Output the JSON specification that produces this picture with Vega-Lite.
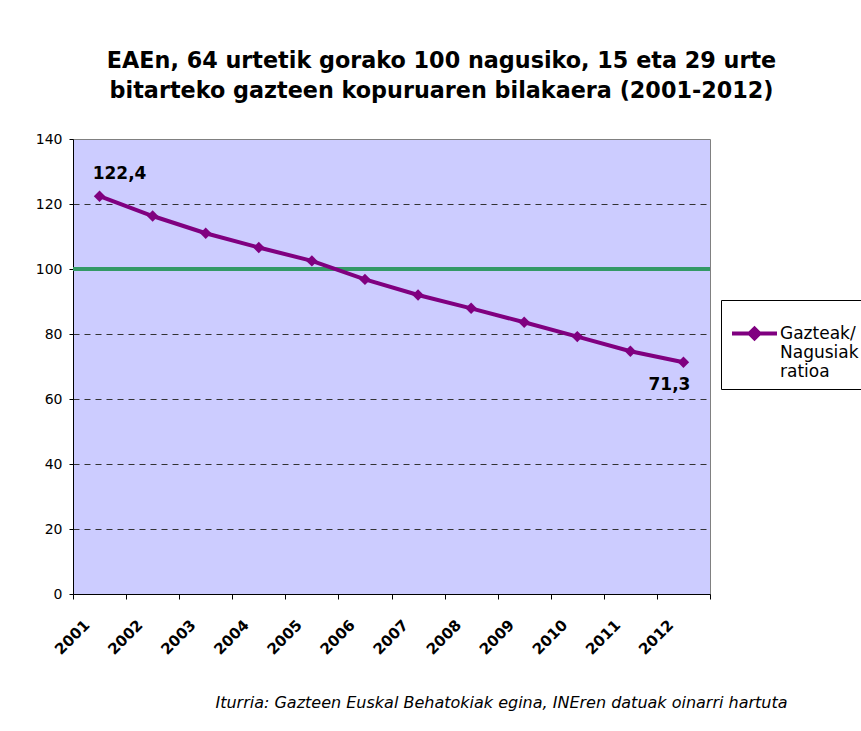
{
  "$schema": "https://vega.github.io/schema/vega-lite/v6.json",
  "width": 637,
  "height": 455,
  "autosize": {"type": "none"},
  "padding": {"left": 73, "top": 139, "right": 151, "bottom": 137},
  "background": "white",
  "config": {
    "locale": {"number": {"decimal": ",", "thousands": ".", "grouping": [3], "currency": ["", " €"]}},
    "view": {"fill": "#ccccff", "stroke": "#808080", "strokeWidth": 1},
    "font": "DejaVu Sans"
  },
  "title": {
    "text": ["EAEn, 64 urtetik gorako 100 nagusiko, 15 eta 29 urte", "bitarteko gazteen kopuruaren bilakaera (2001-2012)"],
    "font": "DejaVu Sans",
    "fontSize": 22.3,
    "fontWeight": "bold",
    "color": "black",
    "anchor": "middle",
    "frame": "group",
    "dx": 50,
    "lineHeight": 30,
    "offset": 30
  },
  "data": {
    "values": [
      {"urtea": "2001", "serie": "Gazteak/ Nagusiak ratioa", "ratioa": 122.4},
      {"urtea": "2002", "serie": "Gazteak/ Nagusiak ratioa", "ratioa": 116.3},
      {"urtea": "2003", "serie": "Gazteak/ Nagusiak ratioa", "ratioa": 111.0},
      {"urtea": "2004", "serie": "Gazteak/ Nagusiak ratioa", "ratioa": 106.6},
      {"urtea": "2005", "serie": "Gazteak/ Nagusiak ratioa", "ratioa": 102.5},
      {"urtea": "2006", "serie": "Gazteak/ Nagusiak ratioa", "ratioa": 96.8},
      {"urtea": "2007", "serie": "Gazteak/ Nagusiak ratioa", "ratioa": 92.0},
      {"urtea": "2008", "serie": "Gazteak/ Nagusiak ratioa", "ratioa": 87.9},
      {"urtea": "2009", "serie": "Gazteak/ Nagusiak ratioa", "ratioa": 83.6},
      {"urtea": "2010", "serie": "Gazteak/ Nagusiak ratioa", "ratioa": 79.2},
      {"urtea": "2011", "serie": "Gazteak/ Nagusiak ratioa", "ratioa": 74.7},
      {"urtea": "2012", "serie": "Gazteak/ Nagusiak ratioa", "ratioa": 71.3}
    ]
  },
  "encoding": {
    "x": {
      "field": "urtea",
      "type": "ordinal",
      "scale": {"type": "band", "paddingInner": 0, "paddingOuter": 0},
      "axis": {
        "title": "Iturria: Gazteen Euskal Behatokiak egina, INEren datuak oinarri hartuta",
        "titleFont": "DejaVu Sans",
        "titleFontStyle": "italic",
        "titleFontWeight": "normal",
        "titleFontSize": 16,
        "titleColor": "black",
        "titleX": 428,
        "titleY": 108,
        "titleAlign": "center",
        "titleBaseline": "middle",
        "tickBand": "extent",
        "domainColor": "black",
        "tickColor": "black",
        "tickSize": 5,
        "labelAngle": -45,
        "labelAlign": "right",
        "labelBaseline": "middle",
        "labelFontWeight": "bold",
        "labelFontSize": 15,
        "labelColor": "black",
        "labelPadding": 23,
        "labelOffset": -13,
        "labelBound": false,
        "labelOverlap": false,
        "grid": false
      }
    },
    "y": {
      "field": "ratioa",
      "type": "quantitative",
      "scale": {"domain": [0, 140], "nice": false},
      "axis": {
        "title": null,
        "values": [0, 20, 40, 60, 80, 100, 120, 140],
        "domainColor": "black",
        "tickColor": "black",
        "tickSize": 4,
        "labelPadding": 7,
        "labelFontSize": 14,
        "labelColor": "black",
        "grid": true,
        "gridColor": "#333333",
        "gridDash": [6, 5],
        "gridWidth": 1,
        "gridOpacity": {"condition": {"test": "datum.value == 140 || datum.value == 0", "value": 0}, "value": 1}
      }
    }
  },
  "layer": [
    {
      "mark": {"type": "rule", "color": "#339966", "strokeWidth": 4},
      "encoding": {"y": {"datum": 100}, "x": {"value": 0}, "x2": {"value": 637}}
    },
    {
      "mark": {"type": "line", "strokeWidth": 4},
      "encoding": {
        "color": {
          "field": "serie",
          "type": "nominal",
          "scale": {"range": ["#800080"]},
          "legend": {
            "title": null,
            "orient": "none",
            "legendX": 648,
            "legendY": 161,
            "strokeColor": "black",
            "fillColor": "white",
            "padding": 9,
            "labelFontSize": 17,
            "labelColor": "black",
            "labelFont": "DejaVu Sans",
            "labelExpr": "['Gazteak/', 'Nagusiak', 'ratioa']",
            "labelLineHeight": 21,
            "labelLimit": 300,
            "symbolType": "M-1,0L1,0M-0.22,0L0,-0.22L0.22,0L0,0.22Z",
            "symbolSize": 2025,
            "symbolStrokeWidth": 4,
            "symbolFillColor": "#800080",
            "symbolStrokeColor": "#800080",
            "labelOffset": 1
          }
        }
      }
    },
    {
      "mark": {"type": "point", "shape": "diamond", "filled": true, "size": 130, "color": "#800080", "opacity": 1}
    },
    {
      "transform": [{"filter": "datum.urtea == '2001'"}],
      "mark": {"type": "text", "fontWeight": "bold", "fontSize": 17, "dx": 20, "dy": -22, "color": "black"},
      "encoding": {"text": {"field": "ratioa", "type": "quantitative", "format": ".1f"}}
    },
    {
      "transform": [{"filter": "datum.urtea == '2012'"}],
      "mark": {"type": "text", "fontWeight": "bold", "fontSize": 17, "dx": -14, "dy": 23, "color": "black"},
      "encoding": {"text": {"field": "ratioa", "type": "quantitative", "format": ".1f"}}
    }
  ]
}
